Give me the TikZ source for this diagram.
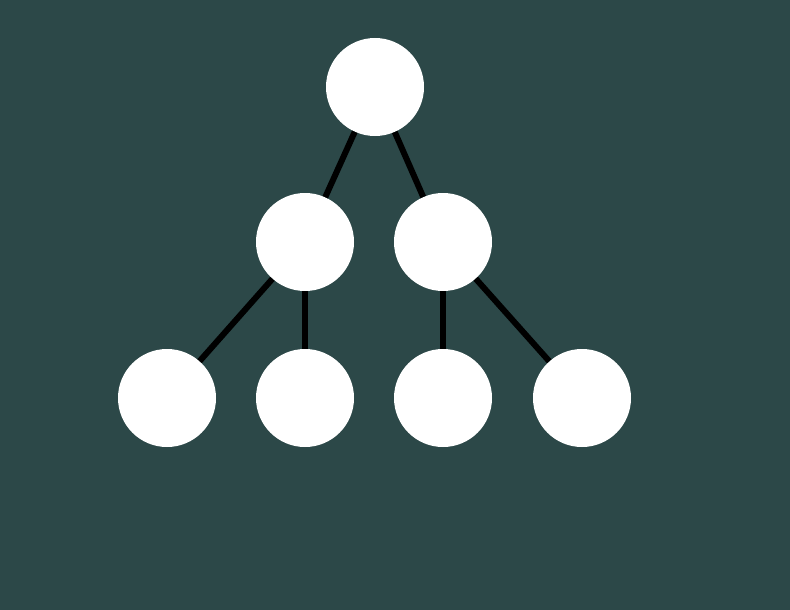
\documentclass[tikz,border=0pt]{standalone}
\usepackage{tikz}

\definecolor{slate}{RGB}{44,72,72}

\begin{document}
\begin{tikzpicture}
[x=1pt,y=-1pt
,every node/.style={circle,fill=white,minimum size=98pt,inner sep=0pt}
,edge/.style={line width=6pt,black}
]

\fill[slate] (0,0) rectangle (790,610);
\useasboundingbox (0,0) rectangle (790,610);

\node(top) at (375,87)  {};
\node(l)   at (305,242) {};
\node(r)   at (443,242) {};
\node(ll)  at (167,398) {};
\node(lr)  at (305,398) {};
\node(rl)  at (443,398) {};
\node(rr)  at (582,398) {};

\draw [edge] (top) -- (l);
\draw [edge] (top) -- (r);
\draw [edge] (l) -- (ll);
\draw [edge] (l) -- (lr);
\draw [edge] (r) -- (rl);
\draw [edge] (r) -- (rr);

\end{tikzpicture}
\end{document}
